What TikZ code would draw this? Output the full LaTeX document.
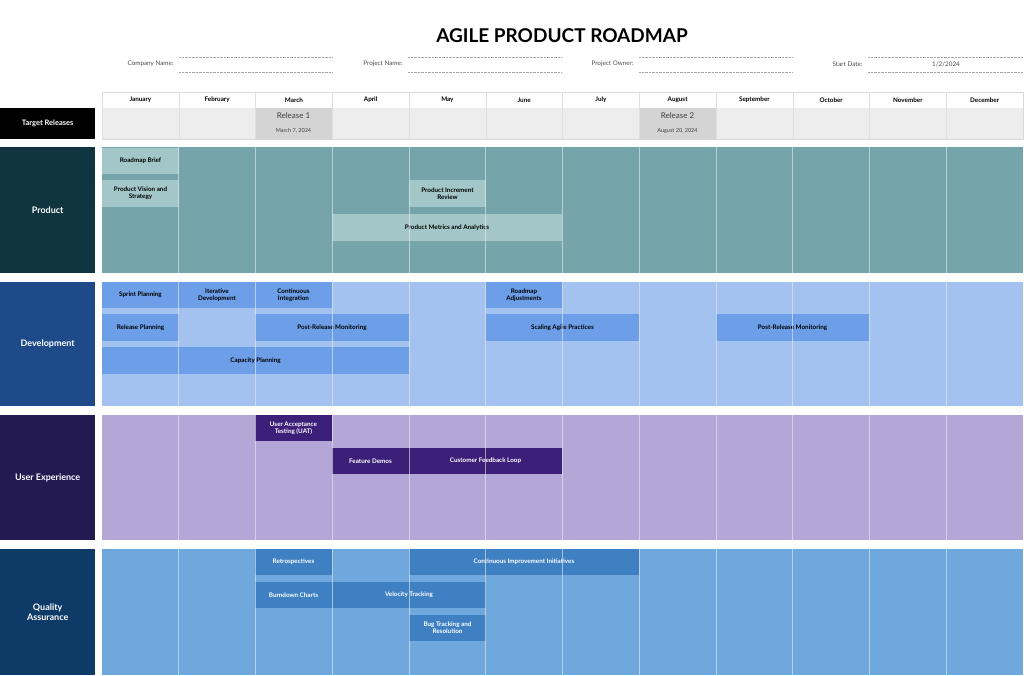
\documentclass[tikz,border=0pt]{standalone}
\usepackage{fontspec}
\setmainfont{Lato}
\begin{document}
\begin{tikzpicture}[x=1pt,y=-1pt,
 bar/.style={inner sep=0pt,align=center,font=\fontsize{6.3}{7}\selectfont\bfseries},
 lab/.style={fill=#1,text=white,inner sep=0pt,font=\fontsize{9}{10}\selectfont\bfseries,align=center},
 mon/.style={font=\fontsize{6.3}{7}\selectfont\bfseries},
 fld/.style={font=\fontsize{6.3}{7}\selectfont,text=black!70,anchor=east},
 dl/.style={black!35,densely dotted,line width=0.4pt}]
\definecolor{pband}{HTML}{76A4AB}\definecolor{plab}{HTML}{0E3540}\definecolor{pbar}{HTML}{A3C6C9}
\definecolor{dband}{HTML}{A4C2F0}\definecolor{dlab}{HTML}{1E4A8A}\definecolor{dbar}{HTML}{6D9EE8}
\definecolor{uband}{HTML}{B4A6D6}\definecolor{ulab}{HTML}{231A52}\definecolor{ubar}{HTML}{3C1F78}
\definecolor{qband}{HTML}{6FA8DC}\definecolor{qlab}{HTML}{0D3A66}\definecolor{qbar}{HTML}{3E80C2}
\useasboundingbox (0,0) rectangle (1024,676);
\fill[white] (0,0) rectangle (1024,676);
\node[font=\fontsize{19}{21}\selectfont\bfseries] (title) at (562,36) {AGILE PRODUCT ROADMAP};
% fields
\node[fld] (f1) at (177,64) {Company Name:}; \draw[dl] (179,57)--(332,57) (179,72)--(332,72);
\node[fld] (f2) at (406,64) {Project Name:}; \draw[dl] (408,57)--(562,57) (408,72)--(562,72);
\node[fld] (f3) at (637,64) {Project Owner:}; \draw[dl] (639,57)--(792,57) (639,72)--(792,72);
\node[fld] (f4) at (866,64) {Start Date:}; \draw[dl] (868,57)--(1023,57) (868,72)--(1023,72);
\node[font=\fontsize{6.3}{7}\selectfont,text=black!70] (sd) at (946,64) {1/2/2024};
% header
\fill[black!7] (102,108) rectangle (1023,139);
\fill[black!17] (255,108) rectangle (332,139);
\fill[black!17] (639,108) rectangle (716,139);
\draw[black!15] (102,92) rectangle (1023,139);
\foreach \m [count=\i] in {January,February,March,April,May,June,July,August,September,October,November,December}{
  \pgfmathsetmacro\xa{102+(\i-1)*76.75}
  \draw[black!12] (\xa,92)--(\xa,139);
  \node[mon] (m\i) at (\xa+38.4,100) {\m};
}
\node[font=\fontsize{8}{9}\selectfont,text=black!75] (r1) at (293.5,116) {Release 1};
\node[font=\fontsize{5.5}{6}\selectfont,text=black!75] (d1) at (293.5,131) {March 7, 2024};
\node[font=\fontsize{8}{9}\selectfont,text=black!75] (r2) at (677.5,116) {Release 2};
\node[font=\fontsize{5.5}{6}\selectfont,text=black!75] (d2) at (677.5,131) {August 20, 2024};
\node[lab=black,minimum width=95pt,minimum height=31pt,anchor=north west,font=\fontsize{7.5}{9}\selectfont\bfseries] (tr) at (0,108) {Target Releases};
% bands
\fill[pband] (102,147) rectangle (1023,273);
\fill[dband] (102,282) rectangle (1023,406);
\fill[uband] (102,415) rectangle (1023,540);
\fill[qband] (102,549) rectangle (1023,675);
\node[lab=plab,minimum width=95pt,minimum height=126pt,anchor=north west] (lp) at (0,147) {Product};
\node[lab=dlab,minimum width=95pt,minimum height=124pt,anchor=north west] (ld) at (0,282) {Development};
\node[lab=ulab,minimum width=95pt,minimum height=125pt,anchor=north west] (lu) at (0,415) {User Experience};
\node[lab=qlab,minimum width=95pt,minimum height=126pt,anchor=north west] (lq) at (0,549) {Quality\\Assurance};
% bars macro via coordinates
\newcommand\bbar[7]{\fill[#6] (#2,#4) rectangle (#3,#5); \node[bar,text=#7] (#1) at ({(#2+#3)/2},{(#4+#5)/2}) {\strut};}
\foreach \n/\a/\b/\c/\d/\f/\t/\s in {
 b1/102/179/148/174/pbar/black/{Roadmap Brief},
 b2/102/179/180/207/pbar/black/{Product Vision and\\Strategy},
 b3/409/486/180/207/pbar/black/{Product Increment\\Review},
 b4/332/562/214/241/pbar/black/{Product Metrics and Analytics},
 c1/102/179/282/308/dbar/black/{Sprint Planning},
 c2/179/255/282/308/dbar/black/{Iterative\\Development},
 c3/255/332/282/308/dbar/black/{Continuous\\Integration},
 c4/486/562/282/308/dbar/black/{Roadmap\\Adjustments},
 c5/102/179/314/341/dbar/black/{Release Planning},
 c6/255/409/314/341/dbar/black/{Post-Release Monitoring},
 c7/486/639/314/341/dbar/black/{Scaling Agile Practices},
 c8/716/869/314/341/dbar/black/{Post-Release Monitoring},
 c9/102/409/347/374/dbar/black/{Capacity Planning},
 u1/255/332/415/441/ubar/white/{User Acceptance\\Testing (UAT)},
 u2/332/409/448/474/ubar/white/{Feature Demos},
 u3/409/562/448/474/ubar/white/{Customer Feedback Loop},
 q1/255/332/549/575/qbar/white/{Retrospectives},
 q2/409/639/549/575/qbar/white/{Continuous Improvement Initiatives},
 q3/255/332/582/608/qbar/white/{Burndown Charts},
 q4/332/486/582/608/qbar/white/{Velocity Tracking},
 q5/409/486/615/641/qbar/white/{Bug Tracking and\\Resolution}}{
 \fill[\f] (\a,\c) rectangle (\b,\d);
 \node[bar,text=\t] (\n) at ({(\a+\b)/2},{(\c+\d)/2}) {\s};
}
% grid lines over bands
\foreach \i in {1,...,11}{
  \pgfmathsetmacro\xa{102+\i*76.75}
  \foreach \ya/\yb in {147/273,282/406,415/540,549/675} \draw[white!85!gray,line width=0.6pt,opacity=0.6] (\xa,\ya)--(\xa,\yb);
}
\end{tikzpicture}
\end{document}
